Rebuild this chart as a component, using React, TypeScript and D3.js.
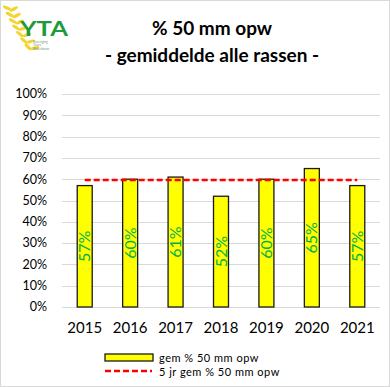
import { useEffect, useRef } from 'react';
import * as d3 from 'd3';

// data
const years = ['2015', '2016', '2017', '2018', '2019', '2020', '2021'];
const pct50mm = [0.57, 0.6, 0.61, 0.52, 0.6, 0.65, 0.57];
const avg5yr = [0.596, 0.596, 0.596, 0.596, 0.596, 0.596, 0.596];
const yTicks = [0, 0.1, 0.2, 0.3, 0.4, 0.5, 0.6, 0.7, 0.8, 0.9, 1];
const legendLabels = ['gem % 50 mm opw', '5 jr gem % 50 mm opw'];

const FONT = 'Lato, "Liberation Sans", sans-serif';

const App = () => {
  const svgRef = useRef<SVGSVGElement>(null);

  useEffect(() => {
    const svg = d3.select(svgRef.current);
    const width = 390;
    const height = 387;
    const margin = { top: 94, left: 62 };
    const plotW = 318;
    const plotH = 213;

    svg.selectAll('*').remove();

    // frame
    svg.append('rect')
      .attr('x', 0.5).attr('y', 0.5)
      .attr('width', width - 1).attr('height', height - 1)
      .attr('fill', '#fff')
      .attr('stroke', '#d9d9d9');

    // logo (rough)
    const logo = svg.append('g');
    const ear = d3.range(7).map(i => ({ x: 10 + i * 2.6 + i * i * 0.15, y: 8 + i * 6.5 }));
    ear.forEach((p, i) => {
      logo.append('ellipse')
        .attr('cx', p.x - 3).attr('cy', p.y)
        .attr('rx', 4.5).attr('ry', 1.6)
        .attr('transform', `rotate(${25 + i * 3}, ${p.x - 3}, ${p.y})`)
        .attr('fill', '#f2d530');
      logo.append('ellipse')
        .attr('cx', p.x + 4).attr('cy', p.y + 1)
        .attr('rx', 4.5).attr('ry', 1.6)
        .attr('transform', `rotate(${-30 + i * 3}, ${p.x + 4}, ${p.y + 1})`)
        .attr('fill', '#f2d530');
    });
    logo.append('text')
      .attr('x', 20).attr('y', 36)
      .attr('font-family', FONT).attr('font-weight', 'bold')
      .attr('font-size', 21).attr('fill', '#1f9a3a')
      .attr('textLength', 48)
      .attr('lengthAdjust', 'spacingAndGlyphs')
      .text('YTA');
    ['Vereniging', 'Telers', 'Akkerbouw'].forEach((t, i) => {
      logo.append('text')
        .attr('x', 33).attr('y', 42.5 + i * 3.8)
        .attr('font-family', FONT).attr('font-size', 3.2)
        .attr('fill', '#7a9a7a')
        .text(t);
    });

    // title
    const title = svg.append('g')
      .attr('font-family', FONT)
      .attr('font-weight', 'bold')
      .attr('text-anchor', 'middle')
      .attr('fill', '#000');
    title.append('text').attr('x', 212).attr('y', 35).attr('font-size', 19).text('% 50 mm opw');
    title.append('text').attr('x', 212).attr('y', 62).attr('font-size', 19).text('- gemiddelde alle rassen -');

    const g = svg.append('g')
      .attr('transform', `translate(${margin.left}, ${margin.top})`);

    // scales
    const x = d3.scaleBand()
      .domain(years)
      .range([0, plotW])
      .padding(0);

    const y = d3.scaleLinear()
      .domain([0, 1])
      .range([plotH, 0]);

    const barW = x.bandwidth() * 0.33;

    // gridlines
    g.append('g')
      .selectAll('line')
      .data(yTicks)
      .join('line')
      .attr('x1', 0).attr('x2', plotW)
      .attr('y1', d => Math.round(y(d)) + 0.5)
      .attr('y2', d => Math.round(y(d)) + 0.5)
      .attr('stroke', '#d9d9d9')
      .attr('stroke-width', 1);

    // y tick labels
    g.append('g')
      .selectAll('text')
      .data(yTicks)
      .join('text')
      .attr('x', -15)
      .attr('y', d => y(d))
      .attr('dy', '0.35em')
      .attr('text-anchor', 'end')
      .attr('font-family', FONT)
      .attr('font-size', 12.5)
      .attr('fill', '#000')
      .text(d => `${Math.round(d * 100)}%`);

    // x labels
    g.append('g')
      .selectAll('text')
      .data(years)
      .join('text')
      .attr('x', d => x(d)! + x.bandwidth() / 2)
      .attr('y', y(0) + 26)
      .attr('text-anchor', 'middle')
      .attr('font-family', FONT)
      .attr('font-size', 15)
      .attr('fill', '#000')
      .text(d => d);

    // bars
    g.append('g')
      .selectAll('rect')
      .data(pct50mm)
      .join('rect')
      .attr('x', (d, i) => x(years[i])! + (x.bandwidth() - barW) / 2)
      .attr('y', d => y(d))
      .attr('width', barW)
      .attr('height', d => y(0) - y(d))
      .attr('fill', '#ffff00')
      .attr('stroke', '#1a1a1a')
      .attr('stroke-width', 1.3);

    // bar labels
    g.append('g')
      .selectAll('text')
      .data(pct50mm)
      .join('text')
      .attr('transform', (d, i) => {
        const cx = x(years[i])! + x.bandwidth() / 2;
        const cy = (y(d) + y(0)) / 2;
        return `translate(${cx}, ${cy}) rotate(-90)`;
      })
      .attr('text-anchor', 'middle')
      .attr('dy', '0.35em')
      .attr('font-family', FONT)
      .attr('font-size', 16)
      .attr('fill', '#00b050')
      .text(d => `${Math.round(d * 100)}%`);

    // 5 yr average line
    const line = d3.line<number>()
      .x((d, i) => x(years[i])! + x.bandwidth() / 2)
      .y(d => y(d));

    g.append('path')
      .datum(avg5yr)
      .attr('d', line)
      .attr('fill', 'none')
      .attr('stroke', '#ff0000')
      .attr('stroke-width', 2.5)
      .attr('stroke-dasharray', '6,3');

    // legend
    const legend = svg.append('g')
      .attr('font-family', FONT)
      .attr('font-size', 11)
      .attr('fill', '#000');
    legend.append('rect')
      .attr('x', 105).attr('y', 354)
      .attr('width', 48).attr('height', 7)
      .attr('fill', '#ffff00')
      .attr('stroke', '#1a1a1a')
      .attr('stroke-width', 1.3);
    legend.append('line')
      .attr('x1', 105).attr('x2', 152)
      .attr('y1', 371).attr('y2', 371)
      .attr('stroke', '#ff0000')
      .attr('stroke-width', 2.5)
      .attr('stroke-dasharray', '6,3');
    legendLabels.forEach((t, i) => {
      legend.append('text')
        .attr('x', 159).attr('y', 361.5 + i * 14)
        .attr('letter-spacing', 0.5)
        .text(t);
    });
  }, []);

  return (
    <svg
      ref={svgRef}
      width="390"
      height="387"
      viewBox="0 0 390 387"
      style={{ position: 'absolute', left: 0, top: 0 }}
    ></svg>
  );
};

export default App;
